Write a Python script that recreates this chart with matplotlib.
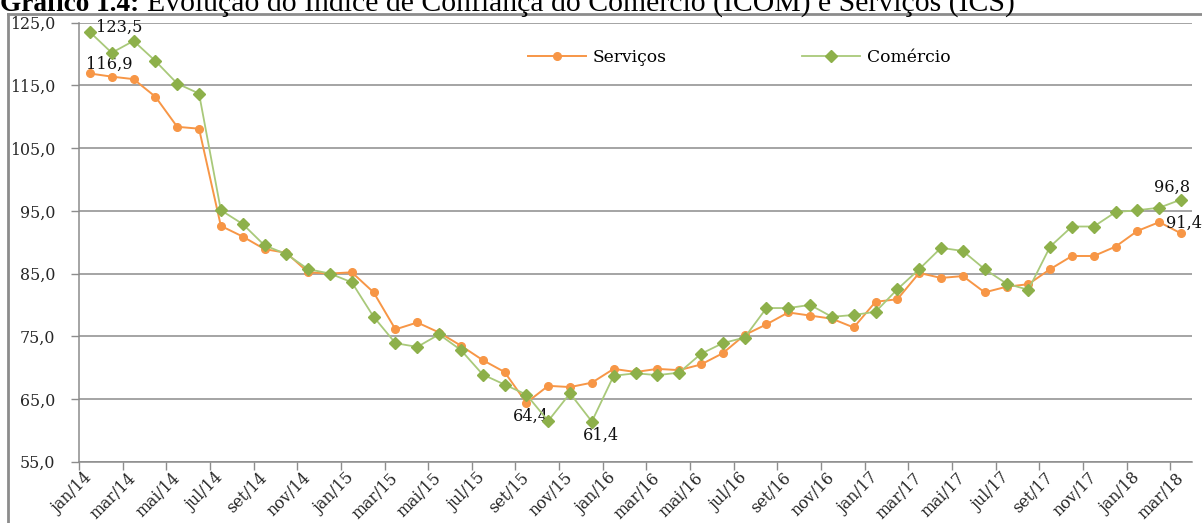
import matplotlib
matplotlib.use("Agg")
import matplotlib.pyplot as plt
from matplotlib.lines import Line2D
from matplotlib.ticker import FixedLocator, FuncFormatter

meses = ["jan", "fev", "mar", "abr", "mai", "jun", "jul", "ago", "set", "out", "nov", "dez"]
periodos = [f"{m}/{a}" for a in range(14, 19) for m in meses][:51]

servicos = [116.9, 116.4, 116.0, 113.2, 108.4, 108.1, 92.6, 90.9, 88.9, 88.3,
            85.2, 85.0, 85.2, 82.0, 76.1, 77.2, 75.6, 73.5, 71.2, 69.3,
            64.4, 67.1, 66.9, 67.6, 69.8, 69.3, 69.8, 69.6, 70.5, 72.3,
            75.2, 76.9, 78.8, 78.3, 77.8, 76.4, 80.5, 80.9, 85.1, 84.3,
            84.6, 82.0, 82.9, 83.3, 85.7, 87.8, 87.8, 89.3, 91.8, 93.2,
            91.4]
comercio = [123.5, 120.2, 122.1, 118.9, 115.3, 113.7, 95.1, 92.9, 89.5, 88.1,
            85.7, 85.0, 83.6, 78.1, 73.9, 73.3, 75.3, 72.8, 68.9, 67.3,
            65.7, 61.5, 65.9, 61.4, 68.7, 69.1, 68.8, 69.2, 72.2, 73.9,
            74.8, 79.5, 79.5, 80.0, 78.1, 78.4, 78.9, 82.5, 85.7, 89.1,
            88.6, 85.7, 83.4, 82.4, 89.3, 92.5, 92.5, 94.8, 95.1, 95.5,
            96.8]

# rótulos destacados: (série, índice, deslocamento em pixels, alinhamento)
rotulos = [
    ("c", 0, (6, 5), "left", "center"),
    ("s", 0, (-4, 1), "left", "bottom"),
    ("s", 20, (4, -14), "center", "center"),
    ("c", 23, (9, -14), "center", "center"),
    ("c", 50, (-9, 4), "center", "bottom"),
    ("s", 50, (-15, 10), "left", "center"),
]

W, H = 1202, 523
fig = plt.figure(figsize=(W / 100, H / 100), dpi=100)
fig.patch.set_facecolor("white")

x0, x1, y0, y1 = 79, 1192, 22.7, 461.7
ax = fig.add_axes([x0 / W, 1 - y1 / H, (x1 - x0) / W, (y1 - y0) / H])

laranja = "#F79646"
x = list(range(len(periodos)))

ax.plot(x, servicos, color=laranja, lw=1.4, marker="o", ms=5.5,
        mfc=laranja, mec=laranja, label="Serviços", zorder=3)
ax.plot(x, comercio, color="#A9C97A", lw=1.3, marker="D", ms=6,
        mfc="#8DB04A", mec="#8DB04A", label="Comércio", zorder=4)

ax.set_xlim(-0.5, len(periodos) - 0.5)
ax.set_ylim(55, 125)
ax.set_yticks(range(55, 126, 10))
ax.yaxis.set_major_formatter(FuncFormatter(lambda v, p: f"{v:.1f}".replace(".", ",")))
ax.grid(axis="y", color="#8C8C8C", lw=1.1)
ax.set_axisbelow(True)

ax.xaxis.set_major_locator(FixedLocator([i - 0.5 for i in range(0, 51, 2)]))
ax.xaxis.set_minor_locator(FixedLocator(list(range(0, 51, 2))))
ax.set_xticklabels([], minor=False)
ax.set_xticklabels([periodos[i] for i in range(0, 51, 2)], minor=True,
                   rotation=45, ha="right", va="center", rotation_mode="anchor")
ax.tick_params(axis="x", which="major", length=6, color="#8C8C8C", width=1)
ax.tick_params(axis="x", which="minor", length=0, pad=10)
ax.tick_params(axis="y", length=6, color="#8C8C8C", width=1, pad=11)

fonte = ["DejaVu Serif"]
for t in ax.get_xticklabels(minor=True) + ax.get_yticklabels():
    t.set_family(fonte)
    t.set_fontsize(11.4)
    t.set_color("#262626")

for s in ("top", "right"):
    ax.spines[s].set_visible(False)
for s in ("left", "bottom"):
    ax.spines[s].set_color("#8C8C8C")
    ax.spines[s].set_linewidth(1.1)

for serie, i, (dx, dy), ha, va in rotulos:
    y = servicos[i] if serie == "s" else comercio[i]
    ax.annotate(f"{y:.1f}".replace(".", ","), (i, y), xytext=(dx, dy),
                textcoords="offset pixels", ha=ha, va=va, fontsize=11.6,
                family=fonte, color="#111111", annotation_clip=False)

leg = ax.legend(loc="center left", bbox_to_anchor=(528 / W, 1 - 57 / H),
                bbox_transform=fig.transFigure, ncol=2, frameon=False,
                prop={"family": "DejaVu Serif", "size": 12.3},
                handlelength=3.4, handletextpad=0.4, columnspacing=7.9,
                borderpad=0, borderaxespad=0)

# moldura da área do gráfico
fig.add_artist(Line2D([8 / W, 8 / W], [0, 1 - 14 / H], color="#8C8C8C", lw=2))
fig.add_artist(Line2D([8 / W, 1], [1 - 14 / H, 1 - 14 / H], color="#8C8C8C", lw=2))

fig.text(0, 1 - 11 / H, "Gráfico 1.4:", family="Liberation Serif",
         fontweight="bold", fontsize=19.6, va="baseline", ha="left")
fig.text(147 / W, 1 - 11 / H,
         "Evolução do Índice de Confiança do Comércio (ICOM) e Serviços (ICS)",
         family="Liberation Serif", fontsize=21.4, va="baseline", ha="left")

fig.savefig("out.png", dpi=100)
